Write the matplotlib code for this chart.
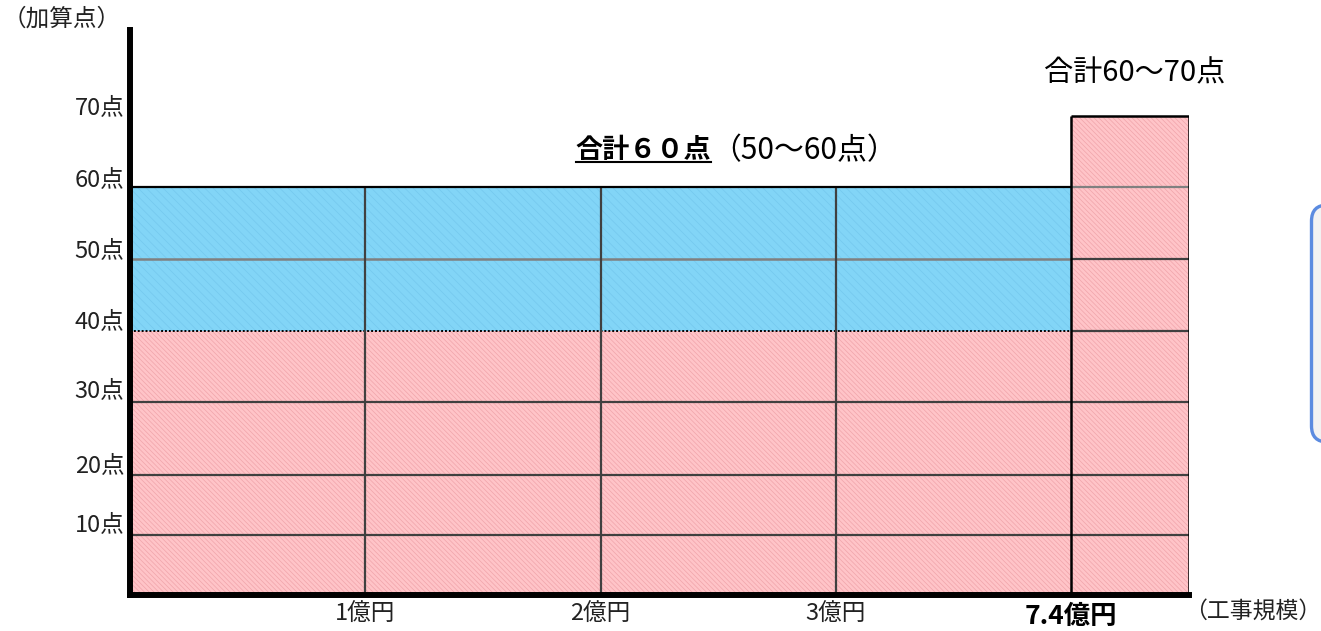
import matplotlib
matplotlib.use("Agg")
from matplotlib import pyplot as plt
from matplotlib.patches import FancyBboxPatch
from matplotlib.lines import Line2D

plt.rcParams['font.family'] = ['Noto Sans CJK JP', 'DejaVu Sans']
plt.rcParams['hatch.linewidth'] = 0.5

# columns (x boundaries) and their labels
col_edges = [0, 1, 2, 3, 4, 4.5]
x_tick_pos = [1, 2, 3, 4]
x_tick_labels = ['1億円', '2億円', '3億円', '7.4億円']

# row boundaries (point scale)
row_levels = [0, 8.4, 16.7, 26.9, 36.8, 46.9, 56.9, 66.8]
y_tick_pos = [10.2, 18.4, 28.9, 38.5, 48.4, 58.3, 68.3]
y_tick_labels = ['10点', '20点', '30点', '40点', '50点', '60点', '70点']

pink_top = 36.8      # pink part of the first four columns
blue_top = 56.9      # blue part of the first four columns
tall_top = 66.8      # last column (7.4億円)

pink = '#ffc4c8'
pink_hatch = '#f0a4aa'
blue = '#82d5f7'
blue_hatch = '#74c8ee'
grid_dark = '#404040'
grid_gray = '#808080'

W, H = 1321, 631
fig = plt.figure(figsize=(W / 100, H / 100), dpi=100)
ax = fig.add_axes([130 / W, (H - 595) / H, (1189 - 130) / W, (595 - 30) / H])
ax.set_xlim(0, 4.5)
ax.set_ylim(0, 78.8)

# cells
lefts = col_edges[:4]
widths = [col_edges[i + 1] - col_edges[i] for i in range(4)]
ax.bar(lefts, [pink_top] * 4, width=widths, align='edge', color=pink,
       edgecolor=pink_hatch, linewidth=0, hatch='\\\\\\\\\\\\\\', zorder=1)
ax.bar(lefts, [blue_top - pink_top] * 4, bottom=pink_top, width=widths, align='edge',
       color=blue, edgecolor=blue_hatch, linewidth=0, hatch='\\\\\\\\', zorder=1)
ax.bar(col_edges[4], tall_top, width=col_edges[5] - col_edges[4], align='edge', color=pink,
       edgecolor=pink_hatch, linewidth=0, hatch='\\\\\\\\\\\\\\', zorder=1)

# horizontal grid lines
for y in row_levels[1:4]:
    ax.hlines(y, 0, 4.5, color=grid_dark, lw=1.6, zorder=2)
ax.hlines(pink_top, 0, 4, color='black', lw=1.4, linestyles=(0, (1, 1)), zorder=2)
ax.hlines(pink_top, 4, 4.5, color=grid_dark, lw=1.6, zorder=2)
ax.hlines(row_levels[5], 0, 4, color=grid_gray, lw=1.8, zorder=2)
ax.hlines(row_levels[5], 4, 4.5, color=grid_dark, lw=1.6, zorder=2)
ax.hlines(blue_top, 0, 4, color='black', lw=1.6, zorder=3)
ax.hlines(blue_top, 4, 4.5, color=grid_gray, lw=1.6, zorder=2)
ax.hlines(tall_top, 4, 4.5, color='black', lw=1.8, zorder=3)

# vertical grid lines
ax.vlines(col_edges[1:4], 0, blue_top, color=grid_dark, lw=1.6, zorder=2)
ax.vlines(col_edges[4], 0, tall_top, color='black', lw=1.8, zorder=3)
ax.vlines(col_edges[5], 0, tall_top, color='black', lw=1.8, zorder=3)

# axes look
for s in ['top', 'right']:
    ax.spines[s].set_visible(False)
for s in ['left', 'bottom']:
    ax.spines[s].set_linewidth(4.3)
    ax.spines[s].set_zorder(5)
ax.spines['left'].set_capstyle('projecting')
ax.set_yticks(y_tick_pos)
ax.set_yticklabels(y_tick_labels, fontsize=17, color='#222222')
ax.set_xticks(x_tick_pos)
ax.set_xticklabels(x_tick_labels, fontsize=17, color='#222222')
ax.tick_params(length=0)
ax.tick_params(axis='y', pad=4)
ax.tick_params(axis='x', pad=6)
lab = ax.get_xticklabels()[3]
lab.set_fontweight('bold')
lab.set_fontsize(19)
lab.set_color('black')

# texts
fig.text(3 / W, 1 - 19 / H, '（加算点）', fontsize=17, ha='left', va='center', color='#222222')
fig.text(1321 / W, 1 - 612 / H, '（工事規模）', fontsize=16.5, ha='right', va='center', color='#222222')
ax.text(4.27, 72.7, '合計60～70点', fontsize=21, ha='center', va='center')
t1 = ax.text(2.47, 62.0, '合計６０点', fontsize=19.5, ha='right', va='center', fontweight='bold')
ax.text(2.47, 62.0, '（50～60点）', fontsize=21.5, ha='left', va='center')

# underline of the bold part
fig.canvas.draw()
bb = t1.get_window_extent()
y_ul = (H - 162) / H
fig.add_artist(Line2D([bb.x0 / W, bb.x1 / W], [y_ul, y_ul], color='black', lw=1.5))

# partly visible rounded box on the right
box = FancyBboxPatch((13.115, (H - 442) / 100), 1.2, 2.37,
                     boxstyle='round,pad=0,rounding_size=0.16',
                     transform=fig.dpi_scale_trans, facecolor='#f2f2f2',
                     edgecolor='#5b8be0', lw=2.4)
fig.add_artist(box)

fig.savefig('out.png', dpi=100)
